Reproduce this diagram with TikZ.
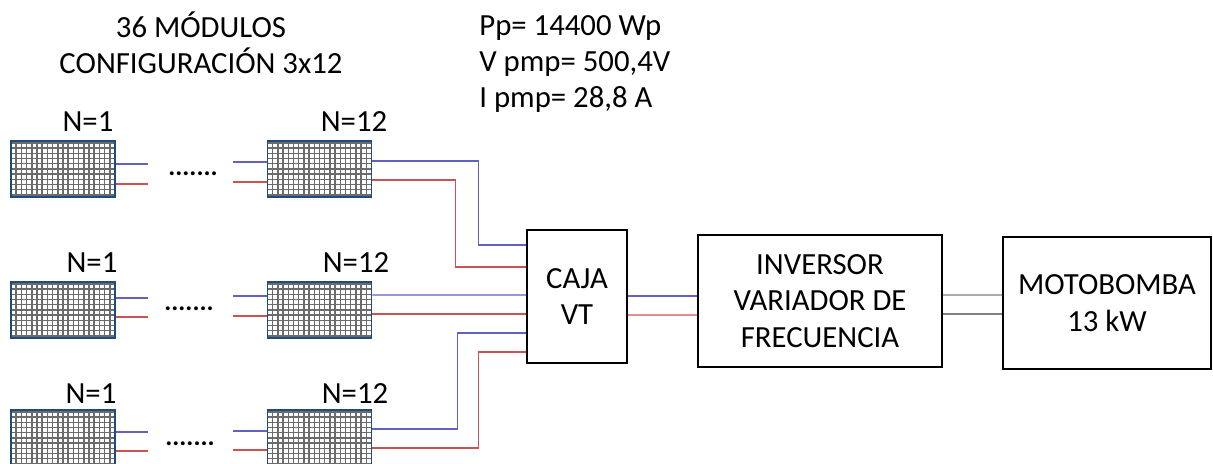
\documentclass[tikz,border=0pt]{standalone}
\usepackage{fontspec}
\setmainfont{Carlito}
\definecolor{wireblue}{rgb}{0.38,0.38,0.75}
\definecolor{wirered}{rgb}{0.8,0.32,0.32}
\definecolor{wiregray}{rgb}{0.5,0.5,0.5}
\definecolor{panelblue}{rgb}{0.12,0.3,0.47}
\definecolor{gridgray}{rgb}{0.42,0.42,0.42}
\tikzset{
  label text/.style={inner sep=0pt,font=\fontsize{17.5}{20.4}\selectfont,align=center},
  dots text/.style={inner sep=0pt,font=\fontsize{15}{18}\selectfont\bfseries},
  solar panel/.style={draw=panelblue,line width=1pt,inner sep=0pt,minimum width=2.08cm,minimum height=1.12cm,
    path picture={\draw[step=0.104cm,color=gridgray,line width=0.8pt] (-1.04,-0.56) grid (1.04,0.56);}},
  block/.style={draw,line width=0.9pt,inner sep=0pt,font=\fontsize{17.5}{20.8}\selectfont,align=center},
  blue wire/.style={wireblue,line width=0.75pt},
  red wire/.style={wirered,line width=0.75pt},
  gray wire/.style={wiregray,line width=0.75pt}
}

\begin{document}
\begin{tikzpicture}
\useasboundingbox (0,0) rectangle (24.26,9.28);
\clip (0,0) rectangle (24.26,9.28);

\node[label text] (title) at (4.02,8.42) {36 MÓDULOS\\CONFIGURACIÓN 3x12};
\node[label text,align=left,anchor=west] (data) at (9.58,8) {Pp= 14400 Wp\\V pmp= 500,4V\\I pmp= 28,8 A};

\node[solar panel] (top1) at (1.26,5.9) {};
\node[solar panel] (top12) at (6.39,5.9) {};
\node[solar panel] (mid1) at (1.26,3.08) {};
\node[solar panel] (mid12) at (6.39,3.08) {};
\node[solar panel] (low1) at (1.26,0.52) {};
\node[solar panel] (low12) at (6.39,0.52) {};

\node[label text] (ntop1) at (1.76,6.85) {N=1};
\node[label text] (ntop12) at (7.08,6.85) {N=12};
\node[label text] (nmid1) at (1.84,4.02) {N=1};
\node[label text] (nmid12) at (7.12,4.02) {N=12};
\node[label text] (nlow1) at (1.82,1.4) {N=1};
\node[label text] (nlow12) at (7.1,1.4) {N=12};

\node[dots text] (dotstop) at (3.86,5.8) {.......};
\node[dots text] (dotsmid) at (3.78,3.1) {.......};
\node[dots text] (dotslow) at (3.8,0.4) {.......};

\node[block,minimum width=2cm,minimum height=2.66cm] (caja) at (11.54,3.35) {CAJA\\VT};
\node[block,minimum width=4.88cm,minimum height=2.64cm] (inversor) at (16.4,3.26) {INVERSOR\\VARIADOR DE\\FRECUENCIA};
\node[block,minimum width=4.16cm,minimum height=2.64cm] (motobomba) at (22.14,3.22) {MOTOBOMBA\\13 kW};

\coordinate (top1b) at (2.96,6);
\coordinate (top1r) at (2.96,5.6);
\coordinate (top12b) at (4.66,6.04);
\coordinate (top12r) at (4.66,5.64);
\coordinate (mid1b) at (2.96,3.32);
\coordinate (mid1r) at (2.96,2.94);
\coordinate (mid12b) at (4.66,3.36);
\coordinate (mid12r) at (4.66,2.96);
\coordinate (low1b) at (2.96,0.64);
\coordinate (low1r) at (2.96,0.26);
\coordinate (low12b) at (4.66,0.66);
\coordinate (low12r) at (4.66,0.28);

\draw[blue wire] (top1.east |- top1b) -- (top1b);
\draw[red wire] (top1.east |- top1r) -- (top1r);
\draw[blue wire] (top12b) -- (top12.west |- top12b);
\draw[red wire] (top12r) -- (top12.west |- top12r);
\draw[blue wire] (mid1.east |- mid1b) -- (mid1b);
\draw[red wire] (mid1.east |- mid1r) -- (mid1r);
\draw[blue wire] (mid12b) -- (mid12.west |- mid12b);
\draw[red wire] (mid12r) -- (mid12.west |- mid12r);
\draw[blue wire] (low1.east |- low1b) -- (low1b);
\draw[red wire] (low1.east |- low1r) -- (low1r);
\draw[blue wire] (low12b) -- (low12.west |- low12b);
\draw[red wire] (low12r) -- (low12.west |- low12r);

\draw[blue wire] ([yshift=0.16cm]top12.east) -- ++(2.12,0) |- ([yshift=1.03cm]caja.west);
\draw[red wire] ([yshift=-0.22cm]top12.east) -- ++(1.66,0) |- ([yshift=0.59cm]caja.west);
\draw[blue wire] ([yshift=0.3cm]mid12.east) -- ([yshift=0.03cm]caja.west);
\draw[red wire] ([yshift=-0.08cm]mid12.east) -- ([yshift=-0.35cm]caja.west);
\draw[blue wire] ([yshift=0.18cm]low12.east) -- ++(1.7,0) |- ([yshift=-0.73cm]caja.west);
\draw[red wire] ([yshift=-0.2cm]low12.east) -- ++(2.12,0) |- ([yshift=-1.11cm]caja.west);

\draw[blue wire] ([yshift=0.01cm]caja.east) -- ([yshift=0.1cm]inversor.west);
\draw[red wire] ([yshift=-0.37cm]caja.east) -- ([yshift=-0.28cm]inversor.west);
\draw[gray wire] ([yshift=0.12cm]inversor.east) -- ([yshift=0.16cm]motobomba.west);
\draw[gray wire] ([yshift=-0.26cm]inversor.east) -- ([yshift=-0.22cm]motobomba.west);
\end{tikzpicture}
\end{document}
